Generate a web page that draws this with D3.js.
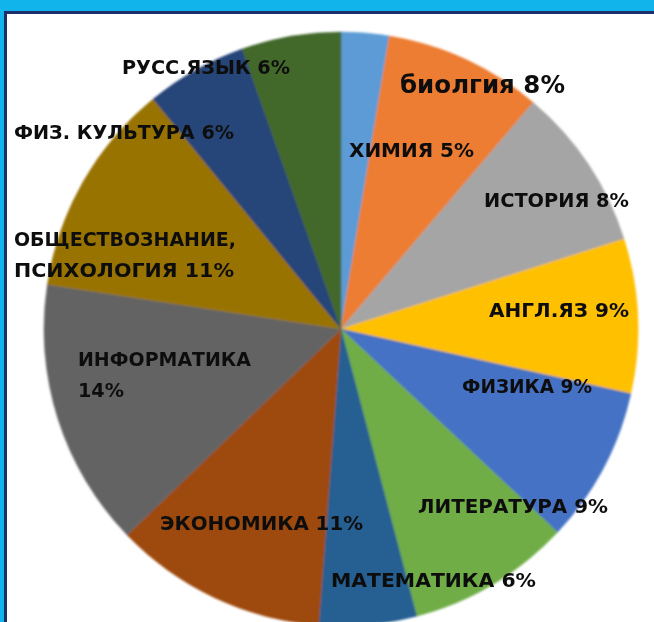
<!DOCTYPE html>
<html>
<head>
<meta charset="utf-8">
<script src="https://cdn.jsdelivr.net/npm/d3@7/dist/d3.min.js"></script>
<style>
  html, body { margin: 0; padding: 0; background: #12b4ec; }
  svg { display: block; }
</style>
</head>
<body>
<script>
// ---- data ----
const subjects = ["ХИМИЯ", "биолгия", "ИСТОРИЯ", "АНГЛ.ЯЗ", "ФИЗИКА", "ЛИТЕРАТУРА",
                  "МАТЕМАТИКА", "ЭКОНОМИКА", "ИНФОРМАТИКА", "ОБЩЕСТВОЗНАНИЕ, ПСИХОЛОГИЯ",
                  "ФИЗ. КУЛЬТУРА", "РУСС.ЯЗЫК"];
// slice sizes as drawn (share of the circle, %)
const sliceShares = [2.6, 8.6, 8.9, 8.4, 8.5, 8.9, 5.3, 11.6, 14.6, 11.7, 5.5, 5.4];
// percentages printed in the labels
const labelPercents = ["5%", "8%", "8%", "9%", "9%", "9%", "6%", "11%", "14%", "11%", "6%", "6%"];
const sliceColors = ["#5b9bd5", "#ed7d31", "#a5a5a5", "#ffc000", "#4472c4", "#70ad47",
                     "#255e91", "#9e480e", "#636363", "#997300", "#264478", "#43682b"];

// ---- layout ----
const W = 654, H = 622;
const cx = 341, cy = 329, R = 297;

// label lines: [subject index, text, x, baseline y, width, size]
const labelLayout = [
  [11, d => `${subjects[11]} ${labelPercents[11]}`, 122, 74, 168, 19],
  [1,  d => `${subjects[1]} ${labelPercents[1]}`, 400, 93, 165, 25],
  [10, d => `${subjects[10]} ${labelPercents[10]}`, 14, 139, 220, 19],
  [0,  d => `${subjects[0]} ${labelPercents[0]}`, 349, 157, 125, 19],
  [2,  d => `${subjects[2]} ${labelPercents[2]}`, 484, 207, 145, 19],
  [9,  d => "ОБЩЕСТВОЗНАНИЕ,", 14, 246, 222, 19],
  [9,  d => `ПСИХОЛОГИЯ ${labelPercents[9]}`, 14, 277, 220, 19],
  [3,  d => `${subjects[3]} ${labelPercents[3]}`, 489, 317, 140, 19],
  [8,  d => subjects[8], 78, 366, 173, 19],
  [8,  d => labelPercents[8], 78, 397, 46, 19],
  [4,  d => `${subjects[4]} ${labelPercents[4]}`, 462, 393, 130, 19],
  [5,  d => `${subjects[5]} ${labelPercents[5]}`, 418, 513, 190, 19],
  [7,  d => `${subjects[7]} ${labelPercents[7]}`, 160, 530, 203, 19],
  [6,  d => `${subjects[6]} ${labelPercents[6]}`, 331, 587, 205, 19]
];

const svg = d3.select("body").append("svg")
  .attr("width", W).attr("height", H);

const defs = svg.append("defs");
defs.append("filter").attr("id", "soft")
  .attr("x", "-5%").attr("y", "-5%").attr("width", "110%").attr("height", "110%")
  .append("feGaussianBlur").attr("stdDeviation", 1.1);
defs.append("filter").attr("id", "softText")
  .append("feGaussianBlur").attr("stdDeviation", 0.45);

// background frame
svg.append("rect").attr("x", 0).attr("y", 0).attr("width", W).attr("height", H).attr("fill", "#12b4ec");
svg.append("rect").attr("x", 4).attr("y", 11).attr("width", W).attr("height", H)
  .attr("fill", "#1b2f6b");
svg.append("rect").attr("x", 7).attr("y", 14).attr("width", W).attr("height", H)
  .attr("fill", "#ffffff");

// pie
const pie = d3.pie().sort(null).value(d => d);
const arc = d3.arc().innerRadius(0).outerRadius(R);

const g = svg.append("g")
  .attr("transform", `translate(${cx},${cy})`)
  .attr("filter", "url(#soft)");

g.selectAll("path")
  .data(pie(sliceShares))
  .join("path")
  .attr("d", arc)
  .attr("fill", (d, i) => sliceColors[i])
  .attr("stroke", (d, i) => sliceColors[i])
  .attr("stroke-width", 0.5);

// labels
const lg = svg.append("g").attr("filter", "url(#softText)");
lg.selectAll("text")
  .data(labelLayout)
  .join("text")
  .attr("x", d => d[2])
  .attr("y", d => d[3])
  .attr("textLength", d => d[4])
  .attr("lengthAdjust", "spacingAndGlyphs")
  .attr("font-family", "'DejaVu Sans', 'Noto Sans', sans-serif")
  .attr("font-weight", "bold")
  .attr("font-size", d => d[5])
  .attr("fill", "#111111")
  .text(d => d[1](d));
</script>
</body>
</html>
